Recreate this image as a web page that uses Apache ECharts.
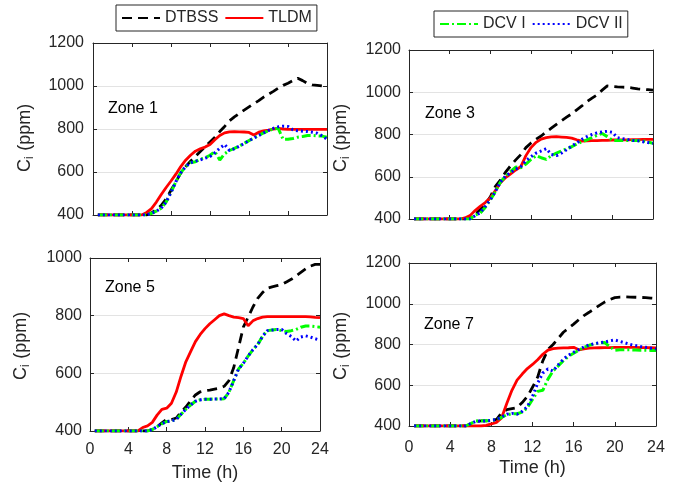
<!DOCTYPE html>
<html>
<head>
<meta charset="utf-8">
<script src="https://cdn.jsdelivr.net/npm/echarts@6/dist/echarts.min.js"></script>
<style>
html,body{margin:0;padding:0;background:#fff;}
#chart{width:678px;height:487px;}
</style>
</head>
<body>
<div id="chart"></div>
<script>
// Time axis (h)
const hours = [0.5,1,1.5,2,2.5,3,3.5,4,4.5,5,5.5,6,6.5,7,7.5,8,8.5,9,9.5,10,10.5,11,11.5,12,12.5,13,13.5,14,14.5,15,15.5,16,16.5,17,17.5,18,18.5,19,19.5,20,20.5,21,21.5,22,22.5,23,23.5,24];
const xTicks = [0,4,8,12,16,20,24];
const seriesNames = ['DTBSS','TLDM','DCV I','DCV II'];
const zoneNames = ['Zone 1','Zone 3','Zone 5','Zone 7'];
const yAxisTitle = ['C','i',' (ppm)'];
const xAxisTitle = 'Time (h)';

// Zone 1
const z1DTBSS = [400,400,400,400,400,400,400,400,400,400,400,410,425,445,475,515,555,595,625,650,672,695,718,740,762,788,812,838,856,872,888,903,918,932,948,962,975,990,1003,1013,1025,1036,1025,1012,1005,1003,1000,1000];
const z1TLDM  = [400,400,400,400,400,400,400,400,400,400,412,430,460,495,528,558,590,625,655,678,697,708,716,728,750,770,782,787,788,787,786,784,772,785,791,795,800,803,800,798,798,798,798,798,798,798,798,798];
const z1DCV1  = [400,400,400,400,400,400,400,400,400,400,400,408,418,432,460,505,555,597,625,643,648,660,666,678,695,656,685,700,710,720,733,746,758,770,782,792,800,803,752,752,756,762,765,770,770,768,767,762];
const z1DCV2  = [400,400,400,400,400,400,400,400,400,400,400,408,418,432,460,505,555,597,625,643,650,656,664,672,690,710,728,700,708,720,733,746,758,770,782,793,803,810,813,812,796,792,790,788,785,780,768,752];

// Zone 3
const z3DTBSS = [400,400,400,400,400,400,400,400,400,400,400,405,420,445,470,505,555,585,622,652,680,705,738,760,778,793,812,830,848,865,882,898,917,935,955,972,988,1010,1030,1027,1025,1024,1023,1020,1016,1014,1012,1010];
const z3TLDM  = [400,400,400,400,400,400,400,400,400,400,405,416,440,460,478,500,535,572,596,614,632,648,700,738,763,778,785,789,790,788,786,783,775,769,770,771,771,772,772,774,774,775,775,776,776,777,777,777];
const z3DCV1  = [400,400,400,400,400,400,400,400,400,400,400,400,418,428,455,490,530,575,603,625,646,643,660,682,700,690,682,700,712,722,732,742,755,765,775,785,796,805,790,772,772,772,772,772,771,770,765,758];
const z3DCV2  = [400,400,400,400,400,400,400,400,400,400,400,400,415,430,460,492,530,575,603,620,636,648,675,695,712,722,733,705,700,712,728,745,760,777,790,800,808,812,815,810,785,780,776,772,770,766,762,758];

// Zone 5
const z5DTBSS = [400,400,400,400,400,400,400,400,400,400,400,400,405,415,428,440,440,445,465,483,505,525,536,540,542,545,548,555,575,620,690,760,795,830,860,880,895,900,904,908,917,926,938,950,962,972,978,978];
const z5TLDM  = [400,400,400,400,400,400,400,400,400,400,412,418,430,455,475,479,496,535,590,640,675,710,735,755,772,786,800,806,800,795,793,790,765,782,790,795,797,797,797,797,797,797,797,797,797,796,794,793];
const z5DCV1  = [400,400,400,400,400,400,400,400,400,400,400,400,405,415,425,433,435,440,458,475,490,503,508,510,510,511,511,512,535,575,615,635,660,682,700,728,748,750,752,748,745,748,752,760,764,764,762,760];
const z5DCV2  = [400,400,400,400,400,400,400,400,400,400,400,400,405,415,425,433,435,440,458,475,490,503,508,510,510,511,511,512,535,575,615,635,660,682,700,728,748,750,752,752,738,728,712,726,730,726,720,715];

// Zone 7
const z7DTBSS = [400,400,400,400,400,400,400,400,400,400,400,410,422,425,425,428,432,465,480,485,490,515,545,590,640,720,775,800,830,860,880,900,922,942,958,975,992,1008,1020,1030,1033,1034,1033,1032,1031,1030,1028,1026];
const z7TLDM  = [400,400,400,400,400,400,400,400,400,400,400,400,400,400,403,410,418,440,510,575,625,655,682,702,725,752,772,780,782,783,784,786,774,779,782,783,784,785,785,786,786,786,786,786,785,785,784,783];
const z7DCV1  = [400,400,400,400,400,400,400,400,400,400,400,412,425,426,426,428,430,442,455,460,460,468,490,530,570,575,630,670,695,720,742,757,772,786,796,803,808,810,790,772,774,774,774,773,772,772,771,771];
const z7DCV2  = [400,400,400,400,400,400,400,400,400,400,400,412,423,425,425,428,432,444,458,462,458,472,495,545,610,660,680,670,700,728,748,762,775,788,798,804,808,812,818,822,815,808,800,795,790,786,782,778];

const zoneData = [
  [z1DTBSS, z1TLDM, z1DCV1, z1DCV2],
  [z3DTBSS, z3TLDM, z3DCV1, z3DCV2],
  [z5DTBSS, z5TLDM, z5DCV1, z5DCV2],
  [z7DTBSS, z7TLDM, z7DCV1, z7DCV2]
];
const yRanges = [[400,1200],[400,1200],[400,1000],[400,1200]];

const FONT = 'Liberation Sans, Arial, Helvetica, sans-serif';
const TXT = '#262626';
const AX = '#262626';

const grids = [
  {left:93, top:43, width:234, height:172},
  {left:409, top:50, width:244, height:169},
  {left:90, top:258, width:230, height:173},
  {left:409, top:263, width:247, height:163}
];
const yLabelMargin = [9, 8, 8, 8];
const xNameGap = [0, 0, 33, 33];
const xLabelMargin = [0, 0, 11, 14];
// start (bottom) point of the rotated y-axis titles
const yTitleStart = [[25,172],[341,172],[21,380],[341,380]];

const styles = [
  {color:'#000000', width:2.8, type:[10,6]},
  {color:'#ff0000', width:2.8, type:'solid'},
  {color:'#00ff00', width:3, type:[9,3,2,3]},
  {color:'#0000ff', width:3, type:[2,3]}
];

const xAxes = [], yAxes = [], series = [];
grids.forEach((g, i) => {
  const bottom = i >= 2;
  xAxes.push({
    type:'value', gridIndex:i, min:0, max:24, interval:4, position:'bottom',
    axisLine:{show:true, onZero:false, lineStyle:{color:AX, width:1}},
    axisTick:{show:true, inside:true, length:4, lineStyle:{color:AX}},
    axisLabel:{show:bottom, fontSize:16, color:TXT, fontFamily:FONT, margin:xLabelMargin[i], formatter:v => String(v)},
    splitLine:{show:false},
    name: bottom ? xAxisTitle : '', nameLocation:'middle', nameGap:xNameGap[i],
    nameTextStyle:{fontSize:18, color:TXT, fontFamily:FONT, verticalAlign:'top'}
  });
  xAxes.push({
    type:'value', gridIndex:i, min:0, max:24, interval:4, position:'top',
    axisLine:{show:true, onZero:false, lineStyle:{color:AX, width:1}},
    axisTick:{show:true, inside:true, length:4, lineStyle:{color:AX}},
    axisLabel:{show:false}, splitLine:{show:false}
  });
  yAxes.push({
    type:'value', gridIndex:i, min:yRanges[i][0], max:yRanges[i][1], interval:200, position:'left',
    axisLine:{show:true, onZero:false, lineStyle:{color:AX, width:1}},
    axisTick:{show:true, inside:true, length:4, lineStyle:{color:AX}},
    axisLabel:{fontSize:16, color:TXT, fontFamily:FONT, margin:yLabelMargin[i], formatter:v => String(v)},
    splitLine:{show:true, lineStyle:{color:'#e3e3e3', width:1}}
  });
  yAxes.push({
    type:'value', gridIndex:i, min:yRanges[i][0], max:yRanges[i][1], interval:200, position:'right',
    axisLine:{show:true, onZero:false, lineStyle:{color:AX, width:1}},
    axisTick:{show:true, inside:true, length:4, lineStyle:{color:AX}},
    axisLabel:{show:false}, splitLine:{show:false}
  });
  seriesNames.forEach((name, k) => {
    const vals = zoneData[i][k];
    series.push({
      name: name, type:'line', xAxisIndex:2*i, yAxisIndex:2*i,
      data: hours.map((t, j) => [t, vals[j]]),
      showSymbol:false, symbol:'none', smooth:false, animation:false,
      lineStyle:{color:styles[k].color, width:styles[k].width, type:styles[k].type},
      itemStyle:{color:styles[k].color},
      z: 2 + k
    });
  });
});

const zoneTextPos = [[108,110],[425,115],[105,289],[424,326]];
const graphics = zoneNames.map((z, i) => ({
  type:'text', left:zoneTextPos[i][0], top:zoneTextPos[i][1]-9,
  style:{text:z, fontSize:16, fill:'#000', fontFamily:FONT}
}));
// rotated y-axis titles: "C" + subscript "i" + " (ppm)"
const MAIN = 18, SUB = 12;
const wC = 0.722 * MAIN, wI = 0.222 * SUB + 0.5;
yTitleStart.forEach(p => {
  const rot = Math.PI / 2;
  graphics.push({
    type:'text', x:p[0], y:p[1], rotation:rot,
    style:{text:yAxisTitle[0], fontSize:MAIN, fill:TXT, fontFamily:FONT, align:'left', verticalAlign:'middle'}
  });
  graphics.push({
    type:'text', x:p[0] + 5, y:p[1] - wC, rotation:rot,
    style:{text:yAxisTitle[1], fontSize:SUB, fill:TXT, fontFamily:FONT, align:'left', verticalAlign:'middle'}
  });
  graphics.push({
    type:'text', x:p[0], y:p[1] - wC - wI, rotation:rot,
    style:{text:yAxisTitle[2], fontSize:MAIN, fill:TXT, fontFamily:FONT, align:'left', verticalAlign:'middle'}
  });
});

const legendCommon = {
  orient:'horizontal', itemWidth:38, itemHeight:14, itemGap:6,
  borderColor:'#262626', borderWidth:1, backgroundColor:'#fff',
  padding:[5,5,5,5], selectedMode:false,
  itemStyle:{opacity:0},
  textStyle:{fontSize:16, color:TXT, fontFamily:FONT, padding:[0,0,0,0]}
};

const chart = echarts.init(document.getElementById('chart'), null, {renderer:'canvas'});
chart.setOption({
  backgroundColor:'#fff',
  animation:false,
  grid: grids.map(g => Object.assign({containLabel:false}, g)),
  xAxis: xAxes,
  yAxis: yAxes,
  legend: [
    Object.assign({}, legendCommon, {data:['DTBSS','TLDM'], left:116, top:5}),
    Object.assign({}, legendCommon, {data:['DCV I','DCV II'], left:434, top:11})
  ],
  graphic: graphics,
  series: series
});
</script>
</body>
</html>
